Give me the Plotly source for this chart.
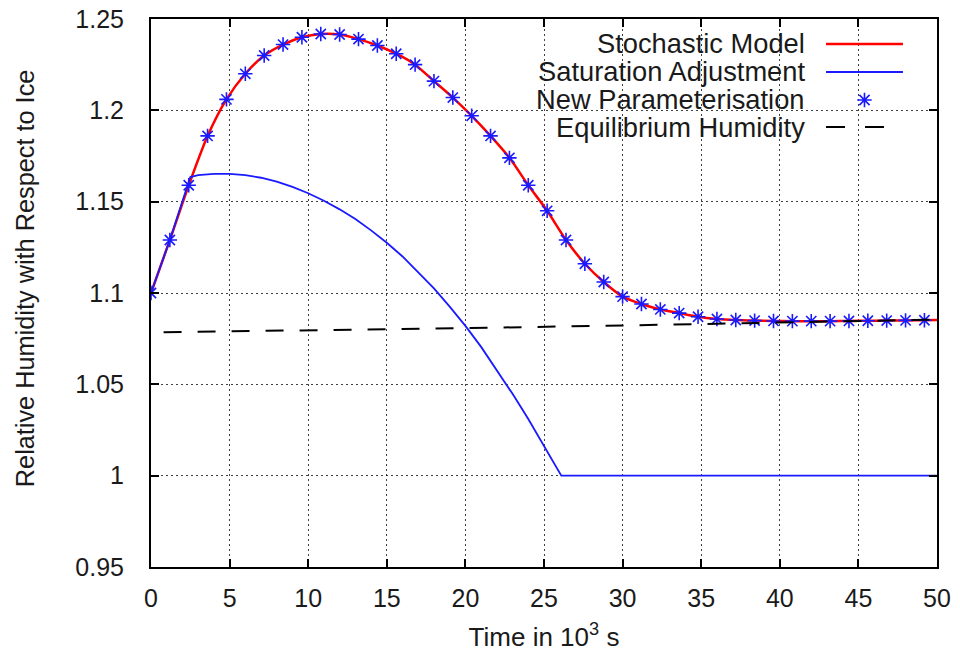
import plotly.graph_objects as go

# ---------------- data ----------------
# Stochastic model (red line), time in 10^3 s
stoch_t = [0, 1.2, 2.4, 3.6, 4.8, 6.0, 7.2, 8.4, 9.6, 10.8, 12.0, 13.2, 14.4, 15.6, 16.8,
           18.0, 19.2, 20.4, 21.6, 22.8, 24.0, 25.2, 26.4, 27.6, 28.8, 30.0, 31.2, 32.4,
           33.6, 34.8, 36.0, 37.2, 38.4, 39.6, 40.8, 42.0, 43.2, 44.4, 45.6, 46.8, 48.0,
           49.2, 50.0]
stoch_rh = [1.100, 1.129, 1.159, 1.186, 1.206, 1.220, 1.230, 1.236, 1.240, 1.2418, 1.2415,
            1.239, 1.2355, 1.231, 1.225, 1.216, 1.207, 1.197, 1.186, 1.174, 1.159, 1.145,
            1.129, 1.116, 1.106, 1.098, 1.094, 1.091, 1.089, 1.087, 1.0858, 1.0852, 1.0849,
            1.0847, 1.0846, 1.0846, 1.0846, 1.0847, 1.0848, 1.0849, 1.0850, 1.0851, 1.0852]

# New parameterisation (blue stars)
param_t = [0, 1.2, 2.4, 3.6, 4.8, 6.0, 7.2, 8.4, 9.6, 10.8, 12.0, 13.2, 14.4, 15.6, 16.8,
           18.0, 19.2, 20.4, 21.6, 22.8, 24.0, 25.2, 26.4, 27.6, 28.8, 30.0, 31.2, 32.4,
           33.6, 34.8, 36.0, 37.2, 38.4, 39.6, 40.8, 42.0, 43.2, 44.4, 45.6, 46.8, 48.0,
           49.2]
param_rh = [1.100, 1.129, 1.159, 1.186, 1.206, 1.220, 1.230, 1.236, 1.240, 1.2418, 1.2415,
            1.239, 1.2355, 1.231, 1.225, 1.216, 1.207, 1.197, 1.186, 1.174, 1.159, 1.145,
            1.129, 1.116, 1.106, 1.098, 1.094, 1.091, 1.089, 1.087, 1.0858, 1.0852, 1.0849,
            1.0847, 1.0846, 1.0846, 1.0846, 1.0847, 1.0848, 1.0849, 1.0850, 1.0851]

# Saturation adjustment (blue line)
satadj_t = [0, 1.2, 2.5, 3, 4, 5, 6, 7, 8, 9, 10, 11, 12, 13, 14, 15, 16, 17, 18, 19,
            20, 21, 22, 23, 24, 25, 26.1, 50]
satadj_rh = [1.100, 1.129, 1.1635, 1.1645, 1.1652, 1.1652, 1.1645, 1.1631, 1.1610, 1.1581,
             1.1546, 1.1505, 1.1458, 1.1405, 1.1343, 1.1275, 1.1200, 1.1115, 1.1025, 1.0925,
             1.0820, 1.0705, 1.0580, 1.0448, 1.0310, 1.0165, 1.0000, 1.0000]

# Equilibrium humidity (black dashed)
equil_t = [0.8, 10, 20, 30, 40, 50]
equil_rh = [1.0785, 1.0795, 1.0808, 1.0822, 1.0838, 1.0855]

# ticks
t_ticks = [0, 5, 10, 15, 20, 25, 30, 35, 40, 45, 50]
rh_ticks = [0.95, 1.0, 1.05, 1.1, 1.15, 1.2, 1.25]
rh_tick_labels = ["0.95", "1", "1.05", "1.1", "1.15", "1.2", "1.25"]

legend_labels = ["Stochastic Model", "Saturation Adjustment",
                 "New Parameterisation", "Equilibrium Humidity"]

# ---------------- figure ----------------
FONT = "Liberation Sans, Arial, sans-serif"
TXT = "#1a1a1a"
BLUE = "#1a1aff"
fig = go.Figure()

fig.add_trace(go.Scatter(x=stoch_t, y=stoch_rh, mode="lines",
                         line=dict(color="#ff0000", width=2.5, shape="spline", smoothing=0.8),
                         showlegend=False, hoverinfo="skip"))
fig.add_trace(go.Scatter(x=satadj_t, y=satadj_rh, mode="lines",
                         line=dict(color=BLUE, width=1.8),
                         showlegend=False, hoverinfo="skip"))
fig.add_trace(go.Scatter(x=param_t, y=param_rh, mode="markers",
                         marker=dict(symbol="asterisk-open", size=12, color=BLUE,
                                     line=dict(color=BLUE, width=1.6)),
                         showlegend=False, hoverinfo="skip"))
fig.add_trace(go.Scatter(x=equil_t, y=equil_rh, mode="lines",
                         line=dict(color="black", width=2, dash="18px,16px"),
                         showlegend=False, hoverinfo="skip"))

# legend (gnuplot style: text right-aligned, sample to the right)
row_y = [0.9544, 0.9033, 0.8522, 0.8029]
txt_x = 0.8346
s_x0, s_x1 = 0.8588, 0.9567
for lab, yy in zip(legend_labels, row_y):
    fig.add_annotation(x=txt_x, y=yy, xref="paper", yref="paper", text=lab,
                       showarrow=False, xanchor="right", yanchor="middle",
                       font=dict(family=FONT, size=27.3, color=TXT))
fig.add_shape(type="line", xref="paper", yref="paper", x0=s_x0, x1=s_x1,
              y0=row_y[0], y1=row_y[0], line=dict(color="#ff0000", width=2.5))
fig.add_shape(type="line", xref="paper", yref="paper", x0=s_x0, x1=s_x1,
              y0=row_y[1], y1=row_y[1], line=dict(color=BLUE, width=1.8))
fig.add_shape(type="line", xref="paper", yref="paper", x0=s_x0, x1=s_x1,
              y0=row_y[3], y1=row_y[3], line=dict(color="black", width=2, dash="19px,20px"))
fig.add_trace(go.Scatter(x=[(s_x0 + s_x1) / 2], y=[row_y[2]], xaxis="x2", yaxis="y2",
                         mode="markers",
                         marker=dict(symbol="asterisk-open", size=12, color=BLUE,
                                     line=dict(color=BLUE, width=1.6)),
                         showlegend=False, hoverinfo="skip"))

# opaque key box hides the grid behind the legend
fig.add_shape(type="rect", xref="paper", yref="paper", x0=0.397, x1=0.978,
              y0=0.7755, y1=1.0, layer="between",
              line=dict(width=0), fillcolor="white")

# y-axis title placed as in the reference
fig.add_annotation(x=-0.1603, y=0.527, xref="paper", yref="paper",
                   text="Relative Humidity with Respect to Ice", textangle=-90,
                   showarrow=False, xanchor="center", yanchor="middle",
                   font=dict(family=FONT, size=25.3, color=TXT))

grid = dict(showgrid=True, gridcolor="rgba(0,0,0,0.75)", gridwidth=1, griddash="2px,3px")
axis_common = dict(showline=True, linecolor="black", linewidth=2, mirror="ticks",
                   ticks="inside", ticklen=8, tickwidth=1.5, tickcolor="black",
                   zeroline=False, automargin=False,
                   tickfont=dict(family=FONT, size=25, color=TXT), **grid)

fig.update_layout(
    width=960, height=652,
    margin=dict(l=151, r=23, t=19, b=85),
    paper_bgcolor="white", plot_bgcolor="white",
    showlegend=False,
    xaxis=dict(range=[0, 50], tickvals=t_ticks, ticklabelstandoff=8,
               title=dict(text="Time in 10<sup>3</sup> s", standoff=18,
                          font=dict(family=FONT, size=26, color=TXT)),
               **axis_common),
    yaxis=dict(range=[0.95, 1.25], tickvals=rh_ticks, ticktext=rh_tick_labels,
               ticklabelstandoff=20, **axis_common),
    xaxis2=dict(range=[0, 1], overlaying="x", visible=False, fixedrange=True),
    yaxis2=dict(range=[0, 1], overlaying="y", visible=False, fixedrange=True),
)

fig.write_html("out.html", config={"displayModeBar": False},
               post_script="document.body.style.margin='0px';document.body.style.overflow='hidden';")
